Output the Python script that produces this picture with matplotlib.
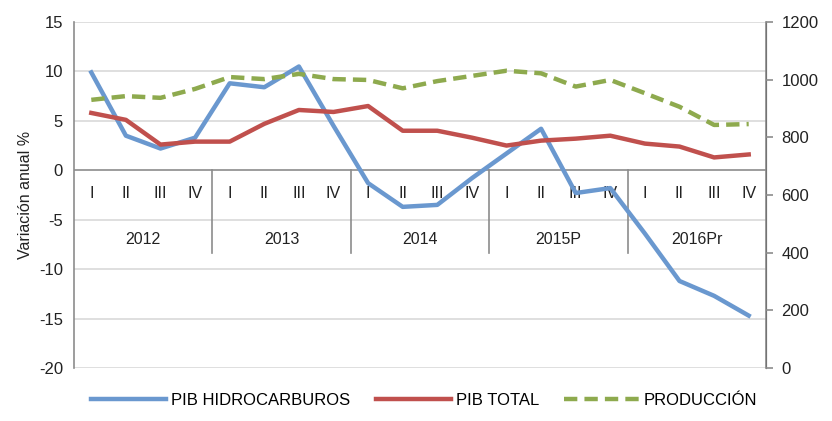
import numpy as np
import matplotlib
matplotlib.use('Agg')
import matplotlib.pyplot as plt

# ── Datos ─────────────────────────────────────────────
years = ['2012', '2013', '2014', '2015P', '2016Pr']
quarters = ['I', 'II', 'III', 'IV']

pib_hidrocarburos = [9.9, 3.5, 2.2, 3.3,
                     8.8, 8.4, 10.5, 4.5,
                     -1.3, -3.7, -3.5, -0.8,
                     1.7, 4.2, -2.3, -1.8,
                     -6.4, -11.2, -12.7, -14.7]
pib_total = [5.8, 5.1, 2.6, 2.9,
             2.9, 4.7, 6.1, 5.9,
             6.5, 4.0, 4.0, 3.3,
             2.5, 3.0, 3.2, 3.5,
             2.7, 2.4, 1.3, 1.6]
produccion = [930, 943, 937, 968,
              1009, 1002, 1020, 1002,
              999, 970, 995, 1013,
              1031, 1022, 976, 999,
              953, 906, 843, 846]

# ── Estilo ────────────────────────────────────────────
COLORS = {
    'hidro': '#6a98cf',
    'total': '#c0504d',
    'prod':  '#8eaa4e',
    'axis':  '#8c8c8c',
    'grid':  '#d9d9d9',
}
LW = 3.2
plt.rcParams['font.family'] = ['Liberation Sans', 'DejaVu Sans']
plt.rcParams['axes.unicode_minus'] = False

fig = plt.figure(figsize=(8.32, 4.21), dpi=100)
ax = fig.add_axes([74/832, 1-368/421, (766-74)/832, (368-22)/421])
ax2 = ax.twinx()

x = np.arange(len(pib_total))

l1, = ax.plot(x, pib_hidrocarburos, color=COLORS['hidro'], lw=LW,
              solid_joinstyle='round', label='PIB HIDROCARBUROS', zorder=4)
l2, = ax.plot(x, pib_total, color=COLORS['total'], lw=LW,
              solid_joinstyle='round', label='PIB TOTAL', zorder=4)
l3, = ax2.plot(x, produccion, color=COLORS['prod'], lw=LW,
               dashes=(3, 1.6), label='PRODUCCIÓN', zorder=4)

ax.set_xlim(-0.5, len(x) - 0.5)
ax.set_ylim(-20, 15)
ax.set_yticks(np.arange(-20, 16, 5))
ax2.set_ylim(0, 1200)
ax2.set_yticks(np.arange(0, 1201, 200))

# rejilla horizontal
for yv in np.arange(-20, 16, 5):
    if yv != 0:
        ax.axhline(yv, color=COLORS['grid'], lw=1.2, zorder=0)
ax.axhline(0, color=COLORS['axis'], lw=1.2, zorder=1)

# etiquetas de categoría (trimestre / año)
ax.set_xticks([])
for i, q in enumerate(quarters * len(years)):
    ax.text(i, -2.35, q, ha='center', va='center', fontsize=11.5, color='#222222')
for j, yr in enumerate(years):
    ax.text(j * 4 + 1.5, -7.0, yr, ha='center', va='center', fontsize=11.5, color='#222222')
for k in range(1, len(years)):
    ax.plot([k * 4 - 0.5] * 2, [0, -8.4], color=COLORS['axis'], lw=1.2, zorder=1)

for a in (ax, ax2):
    for s in ('top', 'bottom'):
        a.spines[s].set_visible(False)
ax2.spines['left'].set_visible(False)
ax.spines['left'].set_color(COLORS['axis'])
ax.spines['left'].set_linewidth(1.2)
ax2.spines['right'].set_color(COLORS['axis'])
ax2.spines['right'].set_linewidth(1.2)

ax.tick_params(axis='y', length=0, labelsize=12, pad=8, colors='#222222')
ax2.tick_params(axis='y', length=5, width=1.2, color=COLORS['axis'],
                labelsize=12, pad=6, labelcolor='#222222')
ax.set_ylabel('Variación anual %', fontsize=11.5, color='#222222', labelpad=4)

fig.legend(handles=[l1, l2, l3], loc='lower center', ncol=3, frameon=False,
           fontsize=12, handlelength=4.5, columnspacing=1.5, handletextpad=0.3,
           bbox_to_anchor=(0.51, -0.005))

fig.savefig('out.png', dpi=100)
